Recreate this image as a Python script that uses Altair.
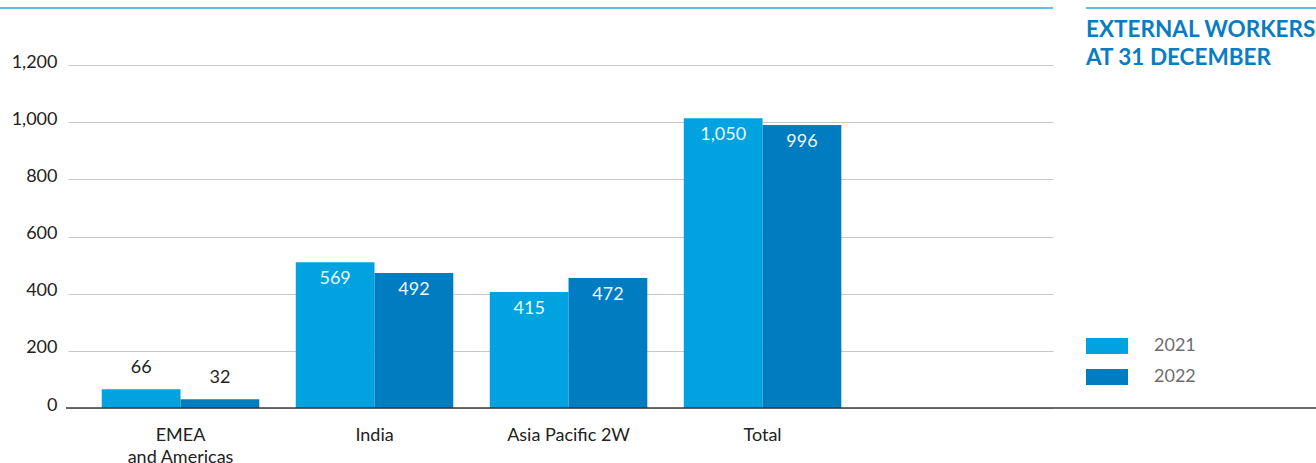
import altair as alt
import pandas as pd

# ---- data ----
categories = ["EMEA|and Americas", "India", "Asia Pacific 2W", "Total"]
years = ["2021", "2022"]
# printed values
labels_2021 = [66, 569, 415, 1050]
labels_2022 = [32, 492, 472, 996]
# bar heights as drawn in the picture
bars_2021 = [66, 510, 406, 1014]
bars_2022 = [31, 472, 455, 990]
y_ticks = [0, 200, 400, 600, 800, 1000, 1200]
title_lines = ["EXTERNAL WORKERS", "AT 31 DECEMBER"]

rows = []
for i, c in enumerate(categories):
    rows.append({"cat": c, "year": "2021", "bar": bars_2021[i], "label": labels_2021[i]})
    rows.append({"cat": c, "year": "2022", "bar": bars_2022[i], "label": labels_2022[i]})
df = pd.DataFrame(rows)

FONT = "Lato"
W, H = 985, 343

x_enc = alt.X(
    "cat:N",
    sort=categories,
    scale=alt.Scale(paddingInner=0.188, paddingOuter=0.6325, align=0.1375),
    axis=alt.Axis(
        title=None, domain=False, ticks=False, labelAngle=0,
        labelExpr="split(datum.label, '|')", labelFont=FONT, labelFontSize=18,
        labelColor="#222222", labelPadding=18, labelLineHeight=22,
    ),
)
xo_enc = alt.XOffset("year:N", sort=years)
y_enc = alt.Y(
    "bar:Q",
    scale=alt.Scale(domain=[0, 1200], nice=False),
    axis=alt.Axis(
        title=None, domain=False, ticks=False, values=y_ticks, format=",d",
        labelFont=FONT, labelFontSize=18, labelColor="#222222", labelPadding=11,
        labelOffset=-3, grid=True, gridColor="#c8c8c8", gridWidth=1.2,
    ),
)

base = alt.Chart(df)

bars = base.mark_bar(opacity=1).encode(
    x=x_enc,
    xOffset=xo_enc,
    y=y_enc,
    color=alt.Color(
        "year:N",
        sort=years,
        scale=alt.Scale(domain=years, range=["#00a3e0", "#007cc0"]),
        legend=alt.Legend(
            title=None, orient="none", legendX=1018, legendY=260,
            symbolType="M-1,-0.381H1V0.381H-1Z", symbolSize=1764,
            symbolStrokeWidth=0, symbolOpacity=1, labelFont=FONT,
            labelFontSize=18, labelColor="#6d6d6d", labelOffset=26,
            rowPadding=1, padding=0,
        ),
    ),
)

inside = base.transform_filter("datum.bar > 150").mark_text(
    baseline="middle", dy=17, font=FONT, fontSize=18, color="#eef7fc"
).encode(x=x_enc, xOffset=xo_enc, y=y_enc, text=alt.Text("label:Q", format=",d"))

outside = base.transform_filter("datum.bar <= 150").mark_text(
    baseline="middle", dy=-21, font=FONT, fontSize=18, color="#222222"
).encode(x=x_enc, xOffset=xo_enc, y=y_enc, text=alt.Text("label:Q", format=",d"))

baseline_rule = alt.Chart(pd.DataFrame({"bar": [0]})).mark_rule(
    color="#333333", opacity=0.72, strokeWidth=2
).encode(x=alt.value(-2), x2=alt.value(1316 - 68), y=y_enc)

top_left = alt.Chart(pd.DataFrame({"v": [0]})).mark_rule(
    color="#29a9e0", strokeWidth=1.5
).encode(x=alt.value(-68), x2=alt.value(W), y=alt.value(8 - 65))
top_right = alt.Chart(pd.DataFrame({"v": [0]})).mark_rule(
    color="#29a9e0", strokeWidth=1.5
).encode(x=alt.value(1086 - 68), x2=alt.value(1316 - 68), y=alt.value(8 - 65))

title = alt.Chart(pd.DataFrame({"t": ["\n".join(title_lines)]})).mark_text(
    align="left", baseline="alphabetic", lineBreak="\n", lineHeight=27.5,
    font=FONT, fontSize=22.5, fontWeight="bold", color="#0a7cc1",
).encode(x=alt.value(1086 - 68), y=alt.value(37 - 65), text="t:N")

chart = alt.layer(bars, inside, outside, baseline_rule, top_left, top_right, title).properties(
    width=W, height=H,
    padding={"left": 68, "top": 65, "right": 263, "bottom": 55},
    autosize=alt.AutoSizeParams(type="none"),
    background="white",
).configure_view(stroke=None)

chart.save("out.html", embed_options={"renderer": "svg", "actions": False})
